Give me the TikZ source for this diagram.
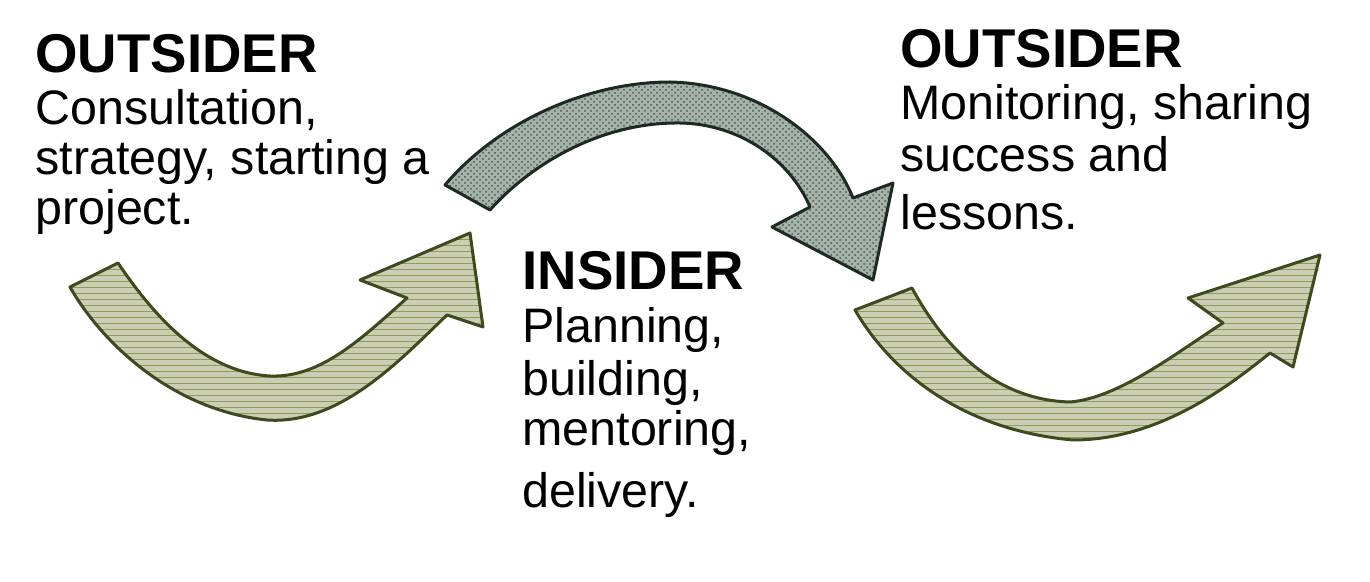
\documentclass[tikz,border=0pt]{standalone}
\usepackage{fontspec}
\setmainfont{Liberation Sans}
\usetikzlibrary{patterns}
\definecolor{gfill}{HTML}{CBCEB4}
\definecolor{gline}{HTML}{3C4A1E}
\definecolor{ghatch}{HTML}{8E9C58}
\definecolor{tfill}{HTML}{A7B2AA}
\definecolor{tline}{HTML}{1C2A22}
\definecolor{thatch}{HTML}{3F5A4C}
\tikzset{
  greenarrow/.style={draw=gline, line width=1.5pt, line join=round,
     preaction={fill=gfill}, pattern=horizontal lines, pattern color=ghatch},
  toparrow/.style={draw=tline, line width=1.5pt, line join=round,
     preaction={fill=tfill}, pattern=crosshatch dots, pattern color=thatch},
  hd/.style={anchor=base west, inner sep=0pt, font=\fontsize{27.3pt}{30pt}\selectfont\bfseries},
  tx/.style={anchor=base west, inner sep=0pt, font=\fontsize{24.2pt}{27pt}\selectfont}
}
\begin{document}
\begin{tikzpicture}[x=0.5pt,y=-0.5pt]
\useasboundingbox (0,0) rectangle (1370,582);
% left arrow
\draw[greenarrow] (70,287)
  .. controls (100,340) and (170,410) .. (267,420)
  .. controls (340,425) and (400,360) .. (447,315)
  -- (483,327) -- (470,233) -- (360,280) -- (407,298)
  .. controls (360,340) and (320,378) .. (270,376)
  .. controls (200,372) and (150,310) .. (118,263)
  -- cycle;
% top arrow
\draw[toparrow] (445,185)
  .. controls (500,120) and (590,82) .. (670,82)
  .. controls (760,84) and (830,140) .. (853,198)
  -- (893,183) -- (873,280) -- (772,227) -- (810,207)
  .. controls (790,160) and (740,124) .. (680,123)
  .. controls (600,122) and (530,165) .. (490,210)
  -- cycle;
% right arrow
\draw[greenarrow] (855,310)
  .. controls (890,370) and (960,430) .. (1073,440)
  .. controls (1160,440) and (1230,385) .. (1270,353)
  -- (1293,367) -- (1320,255) -- (1188,298) -- (1223,323)
  .. controls (1180,350) and (1120,398) .. (1070,402)
  .. controls (990,400) and (940,340) .. (912,288)
  -- cycle;
% left text
\node[hd] (lh) at (35,73) {OUTSIDER};
\node[tx] (l1) at (35,125) {Consultation,};
\node[tx] (l2) at (35,175) {strategy, starting a};
\node[tx] (l3) at (35,225) {project.};
% right text
\node[hd] (rh) at (900,68) {OUTSIDER};
\node[tx] (r1) at (900,120) {Monitoring, sharing};
\node[tx] (r2) at (900,172) {success and};
\node[tx] (r3) at (900,230) {lessons.};
% middle text
\node[hd] (mh) at (522,290) {INSIDER};
\node[tx] (m1) at (522,343) {Planning,};
\node[tx] (m2) at (522,395) {building,};
\node[tx] (m3) at (522,445) {mentoring,};
\node[tx] (m4) at (522,507) {delivery.};
\end{tikzpicture}
\end{document}
